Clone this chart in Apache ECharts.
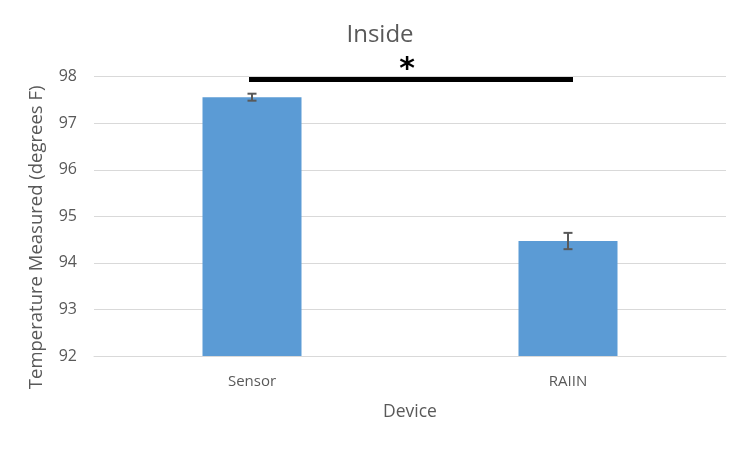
<!DOCTYPE html>
<html><head><meta charset="utf-8">
<script src="https://cdn.jsdelivr.net/npm/echarts@6/dist/echarts.min.js"></script>
<style>html,body{margin:0;padding:0;background:#fff}#c{width:750px;height:449px}</style>
</head><body><div id="c"></div>
<script>
const categories = ['Sensor', 'RAIIN'];
const means = [97.56, 94.47];
const errors = [0.075, 0.175];
const sigLevel = 97.94;
const sigLabel = '*';
const yMin = 92, yMax = 98, yStep = 1;
const titleText = 'Inside';
const xName = 'Device';
const yName = 'Temperature Measured (degrees F)';

const FONT = 'Open Sans';
const GREY = '#595959';
const chart = echarts.init(document.getElementById('c'), null, {renderer: 'canvas'});
chart.setOption({
  animation: false,
  backgroundColor: '#fff',
  title: {text: titleText, left: 375, textAlign: 'center', top: 18,
    textStyle: {fontFamily: FONT, fontSize: 24, fontWeight: 'normal', color: GREY}},
  grid: {left: 94, right: 24, top: 76.7, bottom: 93, containLabel: false},
  xAxis: {type: 'category', data: categories, name: xName, nameLocation: 'middle', nameGap: 47,
    nameTextStyle: {fontFamily: FONT, fontSize: 17.5, color: GREY},
    axisLine: {lineStyle: {color: '#d9d9d9', width: 1}}, axisTick: {show: false},
    axisLabel: {fontFamily: FONT, fontSize: 15, color: GREY, margin: 18}},
  yAxis: {type: 'value', min: yMin, max: yMax, interval: yStep, name: yName,
    nameLocation: 'middle', nameGap: 48,
    nameTextStyle: {fontFamily: FONT, fontSize: 18.5, color: GREY, padding: [0, 42, 0, 0]},
    axisLine: {show: false}, axisTick: {show: false},
    axisLabel: {fontFamily: FONT, fontSize: 16, color: GREY, margin: 17},
    splitLine: {lineStyle: {color: '#d9d9d9', width: 1}}},
  series: [
    {type: 'bar', data: means, barWidth: 99, itemStyle: {color: '#5b9bd5'}},
    {type: 'custom', data: means.map((m, i) => [i, m, errors[i]]), z: 5,
      renderItem: function (params, api) {
        const x = api.value(0), m = api.value(1), e = api.value(2);
        const hi = api.coord([x, m + e]), lo = api.coord([x, m - e]);
        const w = 4.5;
        const st = {stroke: GREY, lineWidth: 2};
        return {type: 'group', children: [
          {type: 'line', shape: {x1: hi[0], y1: hi[1], x2: lo[0], y2: lo[1]}, style: st},
          {type: 'line', shape: {x1: hi[0] - w, y1: hi[1], x2: hi[0] + w, y2: hi[1]}, style: st},
          {type: 'line', shape: {x1: lo[0] - w, y1: lo[1], x2: lo[0] + w, y2: lo[1]}, style: st}
        ]};
      }},
    {type: 'custom', data: [[0, 1, sigLevel]], z: 6, clip: false,
      renderItem: function (params, api) {
        const a = api.coord([api.value(0), api.value(2)]);
        const b = api.coord([api.value(1), api.value(2)]);
        return {type: 'group', children: [
          {type: 'line', shape: {x1: a[0] - 3, y1: a[1], x2: b[0] + 5, y2: b[1]},
            style: {stroke: '#000', lineWidth: 5}},
          {type: 'text', x: (a[0] + b[0]) / 2 - 3, y: a[1] + 6,
            style: {text: sigLabel, fill: '#000', fontFamily: 'DejaVu Sans', fontWeight: 'bold',
              fontSize: 30, align: 'center', verticalAlign: 'bottom'}}
        ]};
      }}
  ]
});
</script></body></html>
